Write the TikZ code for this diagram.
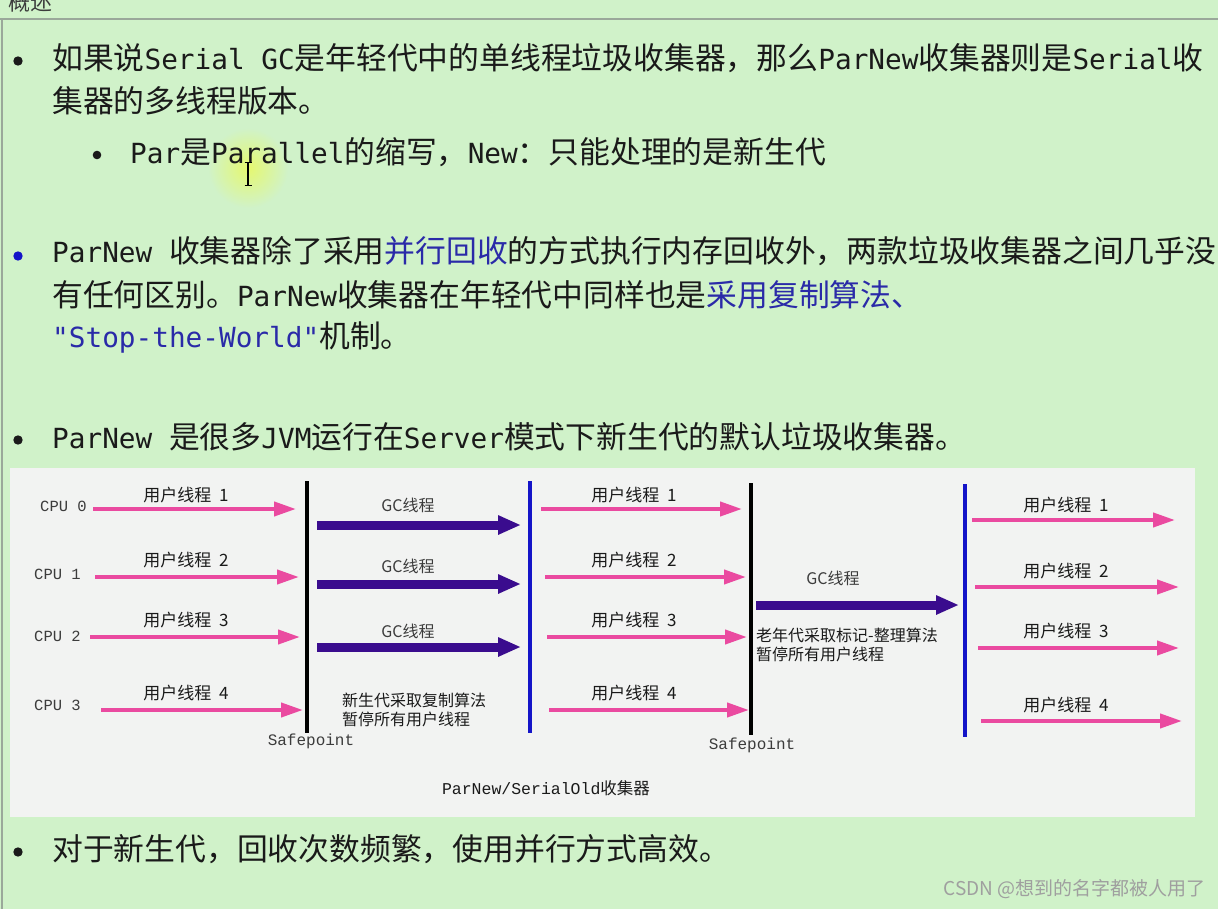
\documentclass[tikz,border=0pt]{standalone}
\usepackage{fontspec}
\setmainfont{Noto Sans CJK SC}
\newfontfamily\mono[Scale=0.9]{DejaVu Sans Mono}
\newfontfamily\cour{Liberation Mono}
\usetikzlibrary{arrows.meta}
\definecolor{bg}{HTML}{D0F2C9}
\definecolor{panel}{HTML}{F2F3F2}
\definecolor{txt}{HTML}{1A1A1A}
\definecolor{lnk}{HTML}{2A2AA8}
\definecolor{pinkc}{HTML}{EA4AA0}
\definecolor{gcc}{HTML}{3A0C8E}
\definecolor{bluel}{HTML}{1414C8}
\definecolor{rule}{HTML}{9AA89A}
\newcommand\mm[1]{{\mono #1}}
\newcommand\gap{\hspace{0.45em}}
\tikzset{
  body/.style={anchor=base west, inner sep=0pt, text=txt, font=\fontsize{30.8}{37}\selectfont},
  bul/.style={fill=txt},
  cpu/.style={anchor=west, inner sep=0pt, text=txt!85, font=\cour\fontsize{15.5}{18}\selectfont},
  ulab/.style={inner sep=0pt, text=txt, font=\fontsize{17}{20}\selectfont},
  gclab/.style={inner sep=0pt, text=txt!85, font=\fontsize{16}{19}\selectfont},
  note/.style={anchor=west, inner sep=0pt, text=txt, align=left, font=\fontsize{16}{19.5}\selectfont},
  sp/.style={inner sep=0pt, text=txt!85, font=\cour\fontsize{16}{19}\selectfont},
  uarr/.style={draw=pinkc, line width=4pt, -{Triangle[length=22pt,width=14pt]}},
  gcarr/.style={draw=gcc, line width=9pt, -{Triangle[length=23pt,width=18pt]}},
  vblack/.style={draw=black, line width=3.5pt},
  vblue/.style={draw=bluel, line width=3.5pt},
}
\begin{document}
\begin{tikzpicture}[x=1pt,y=-1pt]
\useasboundingbox (0,0) rectangle (1218,909);
\fill[bg] (0,0) rectangle (1218,909);
\draw[rule, line width=1.5pt] (0,19) -- (1218,19);
\draw[rule, line width=1.5pt] (2,19) -- (2,909);
\node[anchor=base west, inner sep=0pt, text=txt!85, font=\fontsize{22}{24}\selectfont] (title) at (8,11) {概述};

% cursor glow
\shade[inner color=yellow!45!bg, outer color=bg] (248,168) circle (40);

% bullets and text
\fill[bul] (18,61) circle (4.7);
\node[body] (l1) at (52,70) {如果说\mm{Serial GC}是年轻代中的单线程垃圾收集器，那么\mm{ParNew}收集器则是\mm{Serial}收};
\node[body] (l2) at (52,113) {集器的多线程版本。};
\fill[bul] (97,155) circle (4.3);
\node[body] (l3) at (130,164) {\mm{Par}是\mm{Parallel}的缩写，\mm{New}：只能处理的是新生代};

% cursor
\draw[black, line width=1.3pt] (248,163) -- (248,186);
\draw[black, line width=1pt] (244.5,163) -- (251.5,163) (244.5,186) -- (251.5,186);

\fill[bluel] (18,256) circle (4.7);
\node[body] (l4) at (52,263) {\mm{ParNew }收集器除了采用{\color{lnk}并行回收}的方式执行内存回收外，两款垃圾收集器之间几乎没};
\node[body] (l5) at (52,307) {有任何区别。\mm{ParNew}收集器在年轻代中同样也是{\color{lnk}采用复制算法、}};
\node[body] (l6) at (52,347) {{\color{lnk}\mm{"Stop-the-World"}}机制。};

\fill[bul] (18,440) circle (4.7);
\node[body] (l7) at (52,448) {\mm{ParNew }是很多\mm{JVM}运行在\mm{Server}模式下新生代的默认垃圾收集器。};

\fill[bul] (18,852) circle (4.7);
\node[body] (l8) at (52,860) {对于新生代，回收次数频繁，使用并行方式高效。};

\node[anchor=base east, inner sep=0pt, text=gray!75, font=\fontsize{19}{22}\selectfont] (wm) at (1206,895) {CSDN @想到的名字都被人用了};

% diagram panel
\fill[panel] (10,468) rectangle (1195,817);

% CPU labels
\node[cpu] (cpu0) at (40,506) {CPU 0};
\node[cpu] (cpu1) at (34,574) {CPU 1};
\node[cpu] (cpu2) at (34,636) {CPU 2};
\node[cpu] (cpu3) at (34,705) {CPU 3};

% section 1
\coordinate (a1s) at (93,509);  \coordinate (a1e) at (296,509);
\coordinate (a2s) at (95,577);  \coordinate (a2e) at (299,577);
\coordinate (a3s) at (90,637);  \coordinate (a3e) at (300,637);
\coordinate (a4s) at (101,710); \coordinate (a4e) at (303,710);
\draw[uarr] (a1s) -- (a1e);
\draw[uarr] (a2s) -- (a2e);
\draw[uarr] (a3s) -- (a3e);
\draw[uarr] (a4s) -- (a4e);
\node[ulab] (u11) at (186,495) {用户线程\gap 1};
\node[ulab] (u12) at (186,560) {用户线程\gap 2};
\node[ulab] (u13) at (186,620) {用户线程\gap 3};
\node[ulab] (u14) at (186,693) {用户线程\gap 4};

% safepoint 1
\coordinate (s1t) at (307,481); \coordinate (s1b) at (307,733);
\draw[vblack] (s1t) -- (s1b);
\node[sp] (sp1) at (311,741) {Safepoint};

% GC threads young
\coordinate (g1s) at (317,525); \coordinate (g1e) at (521,525);
\coordinate (g2s) at (317,584); \coordinate (g2e) at (521,584);
\coordinate (g3s) at (317,647); \coordinate (g3e) at (521,647);
\draw[gcarr] (g1s) -- (g1e);
\draw[gcarr] (g2s) -- (g2e);
\draw[gcarr] (g3s) -- (g3e);
\node[gclab] (gl1) at (408,505) {GC线程};
\node[gclab] (gl2) at (408,566) {GC线程};
\node[gclab] (gl3) at (408,631) {GC线程};
\node[note] (n1) at (342,710) {新生代采取复制算法\\暂停所有用户线程};

% blue 1
\coordinate (b1t) at (530,481); \coordinate (b1b) at (530,733);
\draw[vblue] (b1t) -- (b1b);

% section 3
\coordinate (c1s) at (541,509); \coordinate (c1e) at (742,509);
\coordinate (c2s) at (545,577); \coordinate (c2e) at (746,577);
\coordinate (c3s) at (547,637); \coordinate (c3e) at (747,637);
\coordinate (c4s) at (549,710); \coordinate (c4e) at (749,710);
\draw[uarr] (c1s) -- (c1e);
\draw[uarr] (c2s) -- (c2e);
\draw[uarr] (c3s) -- (c3e);
\draw[uarr] (c4s) -- (c4e);
\node[ulab] (u31) at (634,495) {用户线程\gap 1};
\node[ulab] (u32) at (634,560) {用户线程\gap 2};
\node[ulab] (u33) at (634,620) {用户线程\gap 3};
\node[ulab] (u34) at (634,693) {用户线程\gap 4};

% safepoint 2
\coordinate (s2t) at (751,483); \coordinate (s2b) at (751,735);
\draw[vblack] (s2t) -- (s2b);
\node[sp] (sp2) at (752,745) {Safepoint};

% GC old
\coordinate (g4s) at (756,605); \coordinate (g4e) at (959,605);
\draw[gcarr] (g4s) -- (g4e);
\node[gclab] (gl4) at (833,578) {GC线程};
\node[note] (n2) at (756,645) {老年代采取标记-整理算法\\暂停所有用户线程};

% blue 2
\coordinate (b2t) at (965,484); \coordinate (b2b) at (965,737);
\draw[vblue] (b2t) -- (b2b);

% section 5
\coordinate (d1s) at (972,520); \coordinate (d1e) at (1175,520);
\coordinate (d2s) at (975,587); \coordinate (d2e) at (1179,587);
\coordinate (d3s) at (978,648); \coordinate (d3e) at (1179,648);
\coordinate (d4s) at (981,721); \coordinate (d4e) at (1182,721);
\draw[uarr] (d1s) -- (d1e);
\draw[uarr] (d2s) -- (d2e);
\draw[uarr] (d3s) -- (d3e);
\draw[uarr] (d4s) -- (d4e);
\node[ulab] (u51) at (1066,505) {用户线程\gap 1};
\node[ulab] (u52) at (1066,571) {用户线程\gap 2};
\node[ulab] (u53) at (1066,631) {用户线程\gap 3};
\node[ulab] (u54) at (1066,705) {用户线程\gap 4};

\node[inner sep=0pt, text=txt, font=\fontsize{16.5}{19}\selectfont] (cap) at (546,788) {{\cour ParNew/SerialOld}收集器};
\end{tikzpicture}
\end{document}
